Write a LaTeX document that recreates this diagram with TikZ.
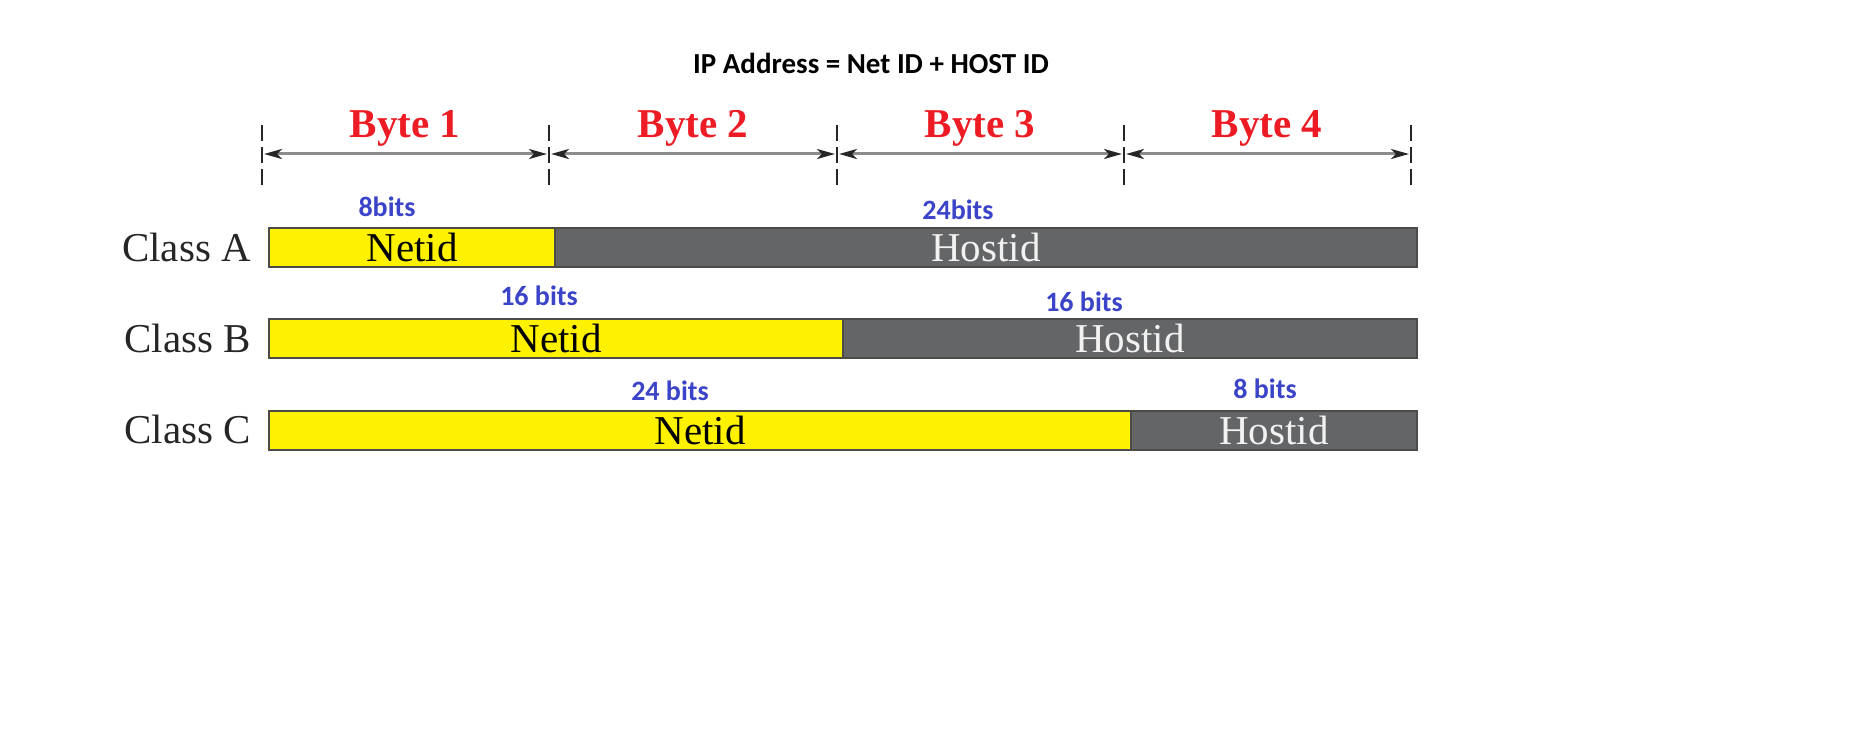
\documentclass[tikz,border=0pt]{standalone}
\usepackage{fontspec}
\setmainfont{Liberation Serif}
\newfontfamily\calibri{Carlito}
\usetikzlibrary{arrows.meta}
\definecolor{netyellow}{RGB}{255,242,0}
\definecolor{hostgray}{RGB}{100,101,103}
\definecolor{bitblue}{RGB}{59,68,200}
\definecolor{bytered}{RGB}{237,28,36}
\definecolor{edgegray}{RGB}{75,75,72}
\begin{document}
\begin{tikzpicture}[x=0.5pt,y=-0.5pt]

    \tikzset{
      bytelabel/.style={
        text=bytered,
        font=\fontsize{20.5}{24}\selectfont\bfseries,
      },
      bitlabel/.style={
        text=bitblue,
        font=\calibri\fontsize{14}{16}\selectfont\bfseries,
      },
      classlabel/.style={
        text=black!85,
        anchor=east,
        font=\fontsize{20.5}{24}\selectfont,
      },
      netfield/.style={
        draw=edgegray,
        line width=1pt,
        fill=netyellow,
        text=black,
        inner sep=0pt,
        minimum height=19.5pt,
        font=\fontsize{20.5}{24}\selectfont,
      },
      hostfield/.style={
        netfield,
        fill=hostgray,
        text=white!95!black,
      },
      tickline/.style={
        black!85,
        line width=1pt,
        dash pattern=on 8pt off 3pt,
      },
      dimline/.style={
        black!45,
        line width=1.5pt,
        {Stealth[length=9pt,width=5pt,inset=2.5pt,black!85]}-{Stealth[length=9pt,width=5pt,inset=2.5pt,black!85]},
      },
    }
    \useasboundingbox (0,0) rectangle (1852,743);

	\draw (871,63) node[anchor = center, font=\calibri\fontsize{14.5}{16}\selectfont\bfseries] (title) {IP Address = Net ID + HOST ID};

	\foreach \i/\x in {0/262,1/549,2/837,3/1124,4/1411}{
	  \coordinate (t\i) at (\x,154);
	  \draw[tickline] (\x,125) -- (\x,185);
	}
	\foreach \a/\b in {0/1,1/2,2/3,3/4}{
	  \draw[dimline] ([xshift=1pt]t\a) -- ([xshift=-1pt]t\b);
	}
	\draw (405,128) node[bytelabel] (byte1) {Byte 1};
	\draw (693,128) node[bytelabel] (byte2) {Byte 2};
	\draw (980,128) node[bytelabel] (byte3) {Byte 3};
	\draw (1267,128) node[bytelabel] (byte4) {Byte 4};

	\node[netfield, minimum width=143pt] (anet) at (412,247.5) {Netid};
	\node[hostfield, minimum width=431pt] (ahost) at (986,247.5) {Hostid};
	\node[netfield, minimum width=287pt] (bnet) at (556,338.5) {Netid};
	\node[hostfield, minimum width=287pt] (bhost) at (1130,338.5) {Hostid};
	\node[netfield, minimum width=431pt] (cnet) at (700,430.5) {Netid};
	\node[hostfield, minimum width=143pt] (chost) at (1274,430.5) {Hostid};

	\node[classlabel] (classa) at (258,247) {Class A};
	\node[classlabel] (classb) at (258,338) {Class B};
	\node[classlabel] (classc) at (258,429) {Class C};

	\draw (387,207) node[bitlabel] (abits) {8bits};
	\draw (958,210) node[bitlabel] (ahbits) {24bits};
	\draw (539,296) node[bitlabel] (bbits) {16 bits};
	\draw (1084,302) node[bitlabel] (bhbits) {16 bits};
	\draw (670,391) node[bitlabel] (cbits) {24 bits};
	\draw (1265,389) node[bitlabel] (chbits) {8 bits};

\end{tikzpicture}
\end{document}
